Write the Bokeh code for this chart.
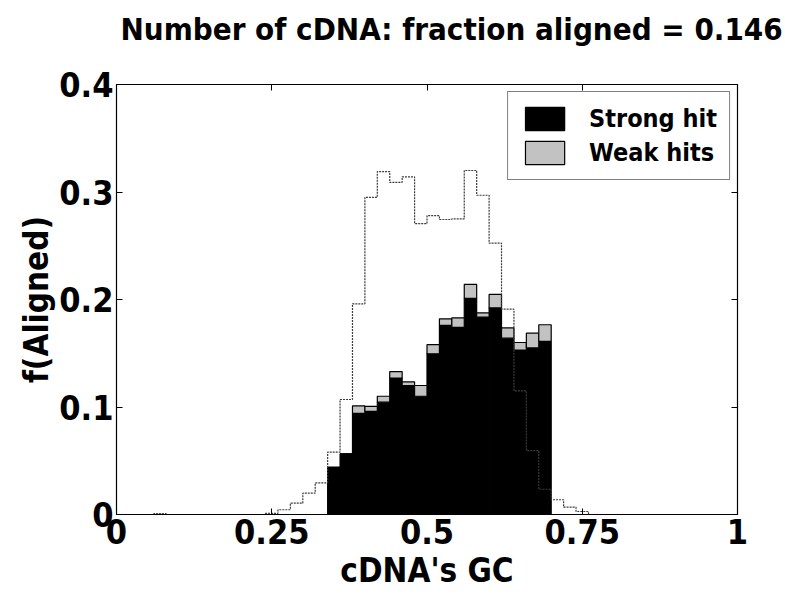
import numpy as np
from bokeh.plotting import figure
from bokeh.models import (LinearAxis, FixedTicker, Range1d, Legend, LegendItem,
                          ColumnDataSource)
from bokeh.embed import file_html
from bokeh.resources import INLINE

# ---------------- data ----------------
bin_width = 0.02
# aligned cDNAs, per GC bin (left edges)
hit_bin_left = [0.34, 0.36, 0.38, 0.40, 0.42, 0.44, 0.46, 0.48, 0.50,
                0.52, 0.54, 0.56, 0.58, 0.60, 0.62, 0.64, 0.66, 0.68]
strong_hit = [0.043, 0.0565, 0.094, 0.096, 0.1045, 0.127, 0.120, 0.110, 0.1495,
              0.176, 0.174, 0.201, 0.1836, 0.1922, 0.164, 0.153, 0.155, 0.161]
all_hits = [0.044, 0.0565, 0.101, 0.1005, 0.110, 0.133, 0.1234, 0.120, 0.158,
            0.182, 0.183, 0.214, 0.1876, 0.2047, 0.1736, 0.160, 0.1687, 0.1765]

# all cDNAs, per GC bin (left edges)
all_bin_left = [0.06, 0.08, 0.10, 0.12, 0.14, 0.16, 0.18, 0.20, 0.22, 0.24,
                0.26, 0.28, 0.30, 0.32, 0.34, 0.36, 0.38, 0.40, 0.42, 0.44,
                0.46, 0.48, 0.50, 0.52, 0.54, 0.56, 0.58, 0.60, 0.62, 0.64,
                0.66, 0.68, 0.70, 0.72, 0.74]
all_frac = [0.0008, 0.0, 0.0, 0.0, 0.0, 0.0, 0.0, 0.0, 0.0, 0.001,
            0.0044, 0.0105, 0.0198, 0.0295, 0.058, 0.107, 0.196, 0.295, 0.319, 0.309,
            0.314, 0.2705, 0.278, 0.2744, 0.275, 0.320, 0.297, 0.2524, 0.191, 0.115,
            0.0595, 0.0235, 0.0137, 0.0068, 0.0028]

x_ticks = [0, 0.25, 0.5, 0.75, 1]
x_tick_labels = ["0", "0.25", "0.5", "0.75", "1"]
y_ticks = [0, 0.1, 0.2, 0.3, 0.4]
y_tick_labels = ["0", "0.1", "0.2", "0.3", "0.4"]

title_text = "Number of cDNA: fraction aligned = 0.146"
x_label = "cDNA's GC"
y_label = "f(Aligned)"

# ---------------- styles ----------------
FONT = "'DejaVu Sans Condensed', 'Liberation Sans', sans-serif"
GRAY = "#c2c2c2"

left = np.array(hit_bin_left)
centers = left + bin_width / 2
strong = np.array(strong_hit)
total = np.array(all_hits)

src = ColumnDataSource(dict(x=centers, strong=strong, total=total))

p = figure(width=785, height=600, x_range=Range1d(0, 1), y_range=Range1d(0, 0.4),
           output_backend="svg", toolbar_location=None,
           min_border_left=116, min_border_right=48, min_border_top=84,
           min_border_bottom=86)
p.background_fill_color = "white"
p.border_fill_color = "white"
p.outline_line_color = "black"
p.outline_line_width = 1.2
p.xgrid.visible = False
p.ygrid.visible = False

p.title.text = title_text
p.title.text_font = FONT
p.title.text_font_size = "31px"
p.title.text_font_style = "bold"
p.title.text_color = "black"
p.title.align = "left"
p.title.offset = 4
p.title.standoff = 10

r_strong = p.vbar(x="x", width=bin_width, top="strong", bottom=0, source=src,
                  fill_color="black", line_color="black", line_width=1.2)
r_weak = p.vbar(x="x", width=bin_width, top="total", bottom="strong", source=src,
                fill_color=GRAY, line_color="black", line_width=1.2)

# outline histogram of all cDNAs
edges = np.array(all_bin_left)
sx = np.concatenate([[edges[0]], edges, [edges[-1] + bin_width]])
sy = np.concatenate([[0.0], np.array(all_frac), [0.0]])
p.step(sx, sy, mode="after", line_color="#3c3c3c", line_width=1.2, line_dash="2 1")

# axes
for ax, ticks, labels in ((p.xaxis[0], x_ticks, x_tick_labels),
                          (p.yaxis[0], y_ticks, y_tick_labels)):
    ax.ticker = FixedTicker(ticks=ticks)
    ax.major_label_overrides = {t: l for t, l in zip(ticks, labels)}
    ax.minor_tick_line_color = None
    ax.major_tick_in = 6
    ax.major_tick_out = 0
    ax.axis_line_color = "black"
    ax.major_tick_line_color = "black"
    ax.major_label_text_font = FONT
    ax.major_label_text_font_style = "bold"
    ax.major_label_text_font_size = "34px"
    ax.major_label_text_color = "black"
    ax.axis_label_text_font = FONT
    ax.axis_label_text_font_style = "bold"
    ax.axis_label_text_font_size = "33px"
    ax.axis_label_text_color = "black"

p.xaxis.axis_label = x_label
p.yaxis.axis_label = y_label
p.xaxis.major_label_standoff = 4
p.yaxis.major_label_standoff = 3
p.xaxis.axis_label_standoff = 4
p.yaxis.axis_label_standoff = 0

# mirrored ticks on top and right (labels not drawn); the blank axis label of
# the top axis keeps the title up at its place
top_ax = LinearAxis(ticker=FixedTicker(ticks=x_ticks), major_tick_in=6, major_tick_out=0,
                    minor_tick_line_color=None, major_label_text_font_size="1px",
                    major_label_text_color=None,
                    major_label_standoff=0, axis_line_color="black",
                    axis_label=" ", axis_label_text_font_size="24px",
                    axis_label_text_color="white", axis_label_standoff=3)
right_ax = LinearAxis(ticker=FixedTicker(ticks=y_ticks), major_tick_in=6, major_tick_out=0,
                      minor_tick_line_color=None, major_label_text_font_size="1px",
                      major_label_text_color=None,
                      major_label_standoff=0, axis_line_color="black")
p.add_layout(top_ax, "above")
p.add_layout(right_ax, "right")

legend = Legend(items=[LegendItem(label="Strong hit", renderers=[r_strong]),
                       LegendItem(label="Weak hits", renderers=[r_weak])],
                location="top_right", margin=7, padding=12, spacing=5,
                glyph_width=49, glyph_height=29, label_standoff=20,
                label_text_font=FONT, label_text_font_style="bold",
                label_text_font_size="25px", label_text_color="black",
                border_line_color="black",
                border_line_width=1.2, background_fill_alpha=1.0)
p.add_layout(legend)

open("out.html", "w").write(file_html(p, INLINE))
